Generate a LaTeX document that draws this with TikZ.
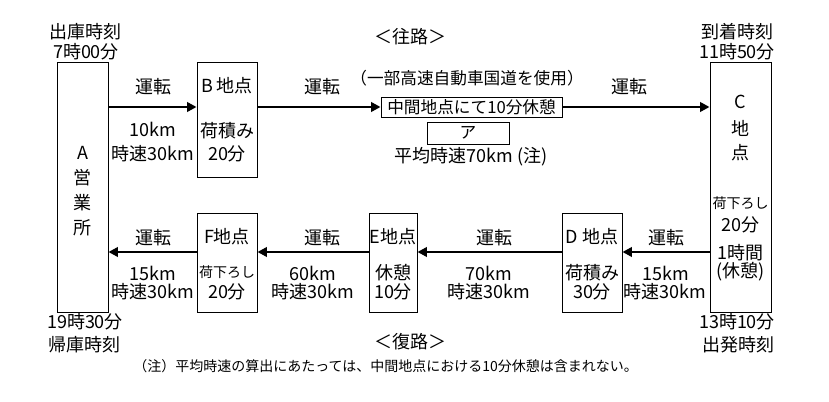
\documentclass[tikz,border=0pt]{standalone}
\usepackage{fontspec}
\setmainfont{Noto Sans CJK JP}
\usetikzlibrary{arrows.meta,fit}

\tikzset{
  box/.style={draw, line width=0.7pt, inner sep=0pt},
  drive/.style={-{Triangle[length=7pt,width=7pt]}, line width=2.2pt},
  lbl/.style={font=\fontsize{13.5}{14}\selectfont, inner sep=0pt},
  midlbl/.style={font=\fontsize{12.5}{13}\selectfont, inner sep=0pt},
  small/.style={font=\fontsize{10.5}{11}\selectfont, inner sep=0pt},
}

\begin{document}
\begin{tikzpicture}[x=0.75pt, y=-0.75pt]
      \useasboundingbox (0,0) rectangle (829,402);

      % boxes
      \node[box, fit={(57,62) (108,312)}] (A) {};
      \node[box, fit={(197,62) (257,177)}] (B) {};
      \node[box, fit={(710,62) (771,312)}] (C) {};
      \node[box, fit={(562,213) (622,312)}] (D) {};
      \node[box, fit={(369,213) (417,312)}] (E) {};
      \node[box, fit={(197,213) (257,312)}] (F) {};
      \node[box, fit={(381,97) (562,117)}] (mid) {};
      \node[box, fit={(427,122) (509,144)}] (ans) {};
      \node[midlbl] (midtxt) at (mid.center) {中間地点にて10分休憩};
      \node[midlbl] (anstxt) at (ans.center) {ア};

      \coordinate (outway) at (0,107);
      \coordinate (backway) at (0,252);

      % outward
      \draw[drive] (A.east |- outway) -- (B.west |- outway);
      \draw[drive] (B.east |- outway) -- (mid.west);
      \draw[drive] (mid.east) -- (C.west |- outway);

      % return
      \draw[drive] (C.west |- backway) -- (D.east |- backway);
      \draw[drive] (D.west |- backway) -- (E.east |- backway);
      \draw[drive] (E.west |- backway) -- (F.east |- backway);
      \draw[drive] (F.west |- backway) -- (A.east |- backway);

      % times
      \node[lbl] (tA1) at (85,32) {出庫時刻};
      \node[lbl] (tA2) at (86,52) {7時00分};
      \node[lbl] (tA3) at (85,322) {19時30分};
      \node[lbl] (tA4) at (84,345) {帰庫時刻};
      \node[lbl] (tC1) at (737,32) {到着時刻};
      \node[lbl] (tC2) at (737,52) {11時50分};
      \node[lbl] (tC3) at (737,322) {13時10分};
      \node[lbl] (tC4) at (738,345) {出発時刻};

      % headings
      \node[lbl] (hOut) at (410,37) {＜往路＞};
      \node[lbl] (hBack) at (410,342) {＜復路＞};
      \node[midlbl] (hway) at (467,78) {（一部高速自動車国道を使用）};
      \node[lbl] (avg) at (471,157) {平均時速70km (注)};

      % A
      \node[lbl] (A1) at (82.5,153) {A};
      \node[lbl] (A2) at (82.5,178) {営};
      \node[lbl] (A3) at (82.5,203) {業};
      \node[lbl] (A4) at (82.5,228) {所};

      % B
      \node[lbl] (B1) at (227,86) {B 地点};
      \node[lbl] (B2) at (227,131) {荷積み};
      \node[lbl] (B3) at (227,154) {20分};

      % C
      \node[lbl] (C1) at (740.5,102) {C};
      \node[lbl] (C2) at (740.5,128) {地};
      \node[lbl] (C3) at (740.5,153) {点};
      \node[small] (C4) at (740.5,203) {荷下ろし};
      \node[lbl] (C5) at (740.5,225) {20分};
      \node[lbl] (C6) at (740.5,253) {1時間};
      \node[lbl] (C7) at (740.5,272) {(休憩)};

      % D, E, F
      \node[lbl] (D1) at (592,237) {D 地点};
      \node[lbl] (D2) at (592,273) {荷積み};
      \node[lbl] (D3) at (592,292) {30分};
      \node[lbl] (E1) at (393,237) {E地点};
      \node[lbl] (E2) at (393,273) {休憩};
      \node[lbl] (E3) at (393,292) {10分};
      \node[lbl] (F1) at (227,237) {F地点};
      \node[small] (F2) at (227,272) {荷下ろし};
      \node[lbl] (F3) at (227,292) {20分};

      % drive labels, outward
      \node[lbl] (dAB) at (153,87) {運転};
      \node[lbl] (kAB) at (153,129) {10km};
      \node[lbl] (sAB) at (153,154) {時速30km};
      \node[lbl] (dBM) at (322,87) {運転};
      \node[lbl] (dMC) at (629,87) {運転};

      % drive labels, return
      \node[lbl] (dCD) at (666,238) {運転};
      \node[lbl] (kCD) at (666,273) {15km};
      \node[lbl] (sCD) at (665,292) {時速30km};
      \node[lbl] (dDE) at (494,238) {運転};
      \node[lbl] (kDE) at (489,273) {70km};
      \node[lbl] (sDE) at (489,292) {時速30km};
      \node[lbl] (dEF) at (322,238) {運転};
      \node[lbl] (kEF) at (313,273) {60km};
      \node[lbl] (sEF) at (313,292) {時速30km};
      \node[lbl] (dFA) at (153,238) {運転};
      \node[lbl] (kFA) at (153,273) {15km};
      \node[lbl] (sFA) at (153,292) {時速30km};

      % note
      \node[small, anchor=west] (note) at (133,366) {（注）平均時速の算出にあたっては、中間地点における10分休憩は含まれない。};
    \end{tikzpicture}
\end{document}
